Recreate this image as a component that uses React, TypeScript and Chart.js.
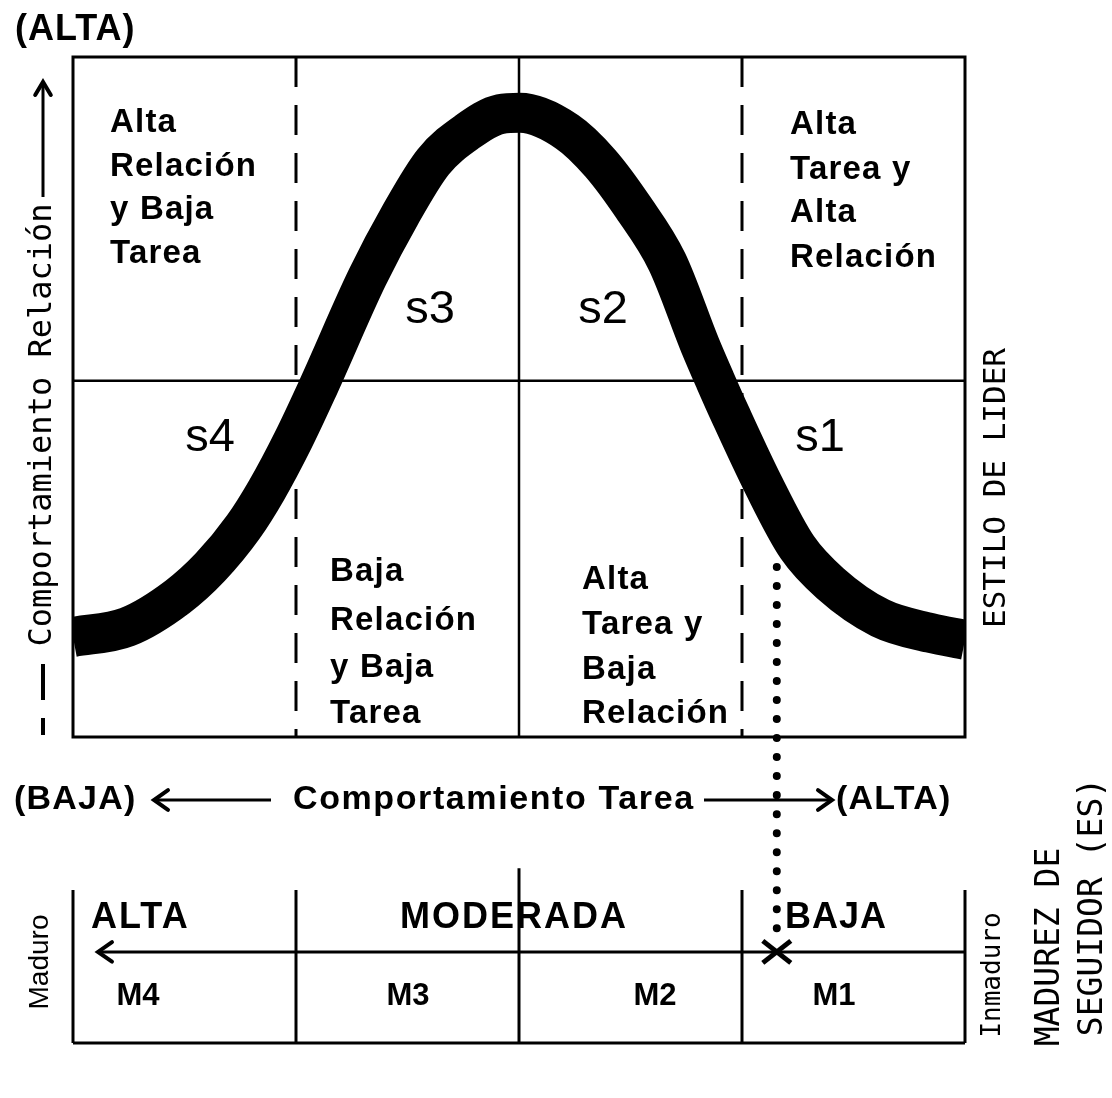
import { useEffect, useRef } from "react";
import { Chart, registerables } from "chart.js";

Chart.register(...registerables);

const W = 1112;
const H = 1098;

// Leadership-style curve: task behaviour (x, 0-100) vs relationship behaviour (y, 0-100)
const curveTask = [0, 6.1, 11.7, 15.4, 19.1, 21.7, 24.7, 27.5, 33.0, 36.7, 40.4, 44.2, 47.9, 50.1, 55.4, 59.1, 62.8, 66.6, 70.3, 72.0, 73.7, 77.4, 81.2, 84.9, 90.5, 96.1, 100];
const curveRelation = [14.7, 16.2, 20.6, 25.0, 30.9, 36.3, 43.7, 51.5, 67.6, 76.8, 84.6, 89.0, 91.6, 91.8, 89.0, 84.4, 77.9, 69.9, 57.6, 52.4, 47.4, 37.1, 27.9, 22.6, 17.5, 15.3, 14.3];

// Quadrant dividers
const dashedTask = [25, 75];
const solidTask = [50];
const midRelation = 52.4;

// Follower maturity continuum (below the main box)
const maturityDividers = [0, 25, 50, 75, 100];
const maturityTop = -22.5;
const maturityCenterTop = -19.3;
const maturityArrow = -31.6;
const maturityBottom = -45;
const dottedTask = 78.9;
const dottedFrom = 25;

// Text
const quadrantTexts = [
  ["Alta", "Relación", "y Baja", "Tarea"],
  ["Alta", "Tarea y", "Alta", "Relación"],
  ["Baja", "Relación", "y Baja", "Tarea"],
  ["Alta", "Tarea y", "Baja", "Relación"],
];
const styleLabels = ["s4", "s3", "s2", "s1"];
const maturityLevels = ["ALTA", "MODERADA", "BAJA"];
const maturityCodes = ["M4", "M3", "M2", "M1"];

const SANS = '"Liberation Sans", Arial, sans-serif';
const MONO = '"DejaVu Sans Mono", monospace';

function seg(ctx: CanvasRenderingContext2D, x1: number, y1: number, x2: number, y2: number, w = 3, dash: number[] = []) {
  ctx.save();
  ctx.beginPath();
  ctx.setLineDash(dash);
  ctx.lineWidth = w;
  ctx.strokeStyle = "#000";
  ctx.moveTo(x1, y1);
  ctx.lineTo(x2, y2);
  ctx.stroke();
  ctx.restore();
}

function head(ctx: CanvasRenderingContext2D, x: number, y: number, dir: "left" | "right" | "up", size = 12) {
  ctx.save();
  ctx.beginPath();
  ctx.lineWidth = 4;
  ctx.lineCap = "round";
  ctx.strokeStyle = "#000";
  if (dir === "left") {
    ctx.moveTo(x + size, y - size * 0.7);
    ctx.lineTo(x, y);
    ctx.lineTo(x + size, y + size * 0.7);
  } else if (dir === "right") {
    ctx.moveTo(x - size, y - size * 0.7);
    ctx.lineTo(x, y);
    ctx.lineTo(x - size, y + size * 0.7);
  } else {
    ctx.moveTo(x - size * 0.6, y + size);
    ctx.lineTo(x, y);
    ctx.lineTo(x + size * 0.6, y + size);
  }
  ctx.stroke();
  ctx.restore();
}

function text(
  ctx: CanvasRenderingContext2D,
  s: string,
  x: number,
  y: number,
  font: string,
  align: CanvasTextAlign = "left",
  rotate = false,
  spacing = 0
) {
  ctx.save();
  ctx.fillStyle = "#000";
  ctx.font = font;
  (ctx as any).letterSpacing = `${spacing}px`;
  ctx.textAlign = align;
  ctx.textBaseline = "middle";
  if (rotate) {
    ctx.translate(x, y);
    ctx.rotate(-Math.PI / 2);
    ctx.fillText(s, 0, 0);
  } else {
    ctx.fillText(s, x, y);
  }
  ctx.restore();
}

const LABEL_Y = 800;

const diagramPlugin = {
  id: "diagram",
  beforeDatasetsDraw(chart: any) {
    const { ctx, scales } = chart;
    const X = (v: number) => scales.x.getPixelForValue(v);
    const Y = (v: number) => scales.y.getPixelForValue(v);
    // main box
    ctx.save();
    ctx.strokeStyle = "#000";
    ctx.lineWidth = 3;
    ctx.strokeRect(X(0), Y(100), X(100) - X(0), Y(0) - Y(100));
    ctx.restore();
    dashedTask.forEach((v) => seg(ctx, X(v), Y(100), X(v), Y(0), 3, [30, 18]));
    solidTask.forEach((v) => seg(ctx, X(v), Y(100), X(v), Y(0), 2.5));
    seg(ctx, X(0), Y(midRelation), X(100), Y(midRelation), 2.5);

    // maturity box
    maturityDividers.forEach((v) => {
      const top = v === 50 ? maturityCenterTop : maturityTop;
      seg(ctx, X(v), Y(top), X(v), Y(maturityBottom), 3);
    });
    seg(ctx, X(0), Y(maturityBottom), X(100), Y(maturityBottom), 3);
    seg(ctx, X(2.8), Y(maturityArrow), X(100), Y(maturityArrow), 3);
    head(ctx, X(2.8), Y(maturityArrow), "left", 14);

    // left axis arrow and broken continuation
    seg(ctx, 43, 197, 43, 84, 3);
    head(ctx, 43, 82, "up", 13);
    seg(ctx, 43, 664, 43, 700, 4);
    seg(ctx, 43, 718, 43, 735, 4);

    // bottom axis arrows
    seg(ctx, 156, LABEL_Y, 271, LABEL_Y, 3);
    head(ctx, 154, LABEL_Y, "left", 14);
    seg(ctx, 704, LABEL_Y, 830, LABEL_Y, 3);
    head(ctx, 832, LABEL_Y, "right", 14);
  },
  afterDatasetsDraw(chart: any) {
    const { ctx, scales } = chart;
    const X = (v: number) => scales.x.getPixelForValue(v);
    const Y = (v: number) => scales.y.getPixelForValue(v);
    const qFont = `bold 33px ${SANS}`;
    const qPos = [
      { x: 110, ys: [123, 167, 210, 254] },
      { x: 790, ys: [125, 170, 213, 258] },
      { x: 330, ys: [572, 621, 668, 714] },
      { x: 582, ys: [580, 625, 670, 714] },
    ];
    quadrantTexts.forEach((lines, i) =>
      lines.forEach((s, j) => text(ctx, s, qPos[i].x, qPos[i].ys[j], qFont, "left", false, 1.2))
    );
    const sPos = [
      [210, 438],
      [430, 310],
      [603, 310],
      [820, 438],
    ];
    styleLabels.forEach((s, i) => text(ctx, s, sPos[i][0], sPos[i][1], `47px ${SANS}`, "center"));

    text(ctx, "(ALTA)", 15, 30, `bold 36px ${SANS}`, "left", false, 1);
    text(ctx, "(BAJA)", 14, LABEL_Y, `bold 34px ${SANS}`, "left", false, 1.2);
    text(ctx, "Comportamiento Tarea", 293, LABEL_Y, `bold 34px ${SANS}`, "left", false, 1.6);
    text(ctx, "(ALTA)", 836, LABEL_Y, `bold 34px ${SANS}`, "left", false, 1.2);

    text(ctx, "Comportamiento Relación", 43, 425, `32px ${MONO}`, "center", true);
    text(ctx, "ESTILO DE LIDER", 997, 488, `31px ${MONO}`, "center", true);

    // maturity labels
    const lvlY = 918;
    text(ctx, maturityLevels[0], 91, lvlY, `bold 36px ${SANS}`, "left", false, 2);
    text(ctx, maturityLevels[1], 400, lvlY, `bold 36px ${SANS}`, "left", false, 2);
    text(ctx, maturityLevels[2], 785, lvlY, `bold 36px ${SANS}`, "left", false, 1);
    const codeX = [138, 408, 655, 834];
    maturityCodes.forEach((s, i) => text(ctx, s, codeX[i], 996, `bold 31px ${SANS}`, "center"));

    text(ctx, "Maduro", 40, 962, `28px ${SANS}`, "center", true);
    text(ctx, "Inmaduro", 993, 975, `26px ${MONO}`, "center", true);
    text(ctx, "MADUREZ DE", 1050, 947, `33px ${MONO}`, "center", true);
    text(ctx, "SEGUIDOR (ES)", 1093, 907, `33px ${MONO}`, "center", true);

    // X mark where the dotted line meets the maturity arrow
    const cx = X(dottedTask);
    const cy = Y(maturityArrow);
    seg(ctx, cx - 14, cy - 11, cx + 14, cy + 11, 5);
    seg(ctx, cx - 14, cy + 11, cx + 14, cy - 11, 5);
  },
};

export default function App() {
  const ref = useRef<HTMLCanvasElement>(null);
  useEffect(() => {
    const canvas = ref.current;
    if (!canvas) return;
    const chart = new Chart(canvas, {
      type: "line",
      data: {
        datasets: [
          {
            label: "Estilo de líder",
            data: curveTask.map((x, i) => ({ x, y: curveRelation[i] })),
            borderColor: "#000",
            borderWidth: 40,
            pointRadius: 0,
            cubicInterpolationMode: "monotone",
            fill: false,
            borderCapStyle: "butt",
            borderJoinStyle: "round",
          },
          {
            label: "Madurez",
            data: [
              { x: dottedTask, y: dottedFrom },
              { x: dottedTask, y: maturityArrow + 2 },
            ],
            borderColor: "#000",
            borderWidth: 8,
            borderDash: [0.01, 19],
            borderCapStyle: "round",
            pointRadius: 0,
            fill: false,
          },
        ],
      },
      options: {
        responsive: false,
        animation: false,
        devicePixelRatio: 1,
        events: [],
        layout: { padding: { left: 73, right: W - 965, top: 57, bottom: H - 1043 } },
        scales: {
          x: { type: "linear", min: 0, max: 100, display: false },
          y: { type: "linear", min: maturityBottom, max: 100, display: false },
        },
        plugins: { legend: { display: false }, tooltip: { enabled: false }, title: { display: false } },
      },
      plugins: [diagramPlugin],
    } as any);
    return () => chart.destroy();
  }, []);
  return (
    <div style={{ position: "absolute", left: 0, top: 0, width: W, height: H, background: "#fff" }}>
      <canvas ref={ref} width={W} height={H} style={{ display: "block" }} />
    </div>
  );
}
